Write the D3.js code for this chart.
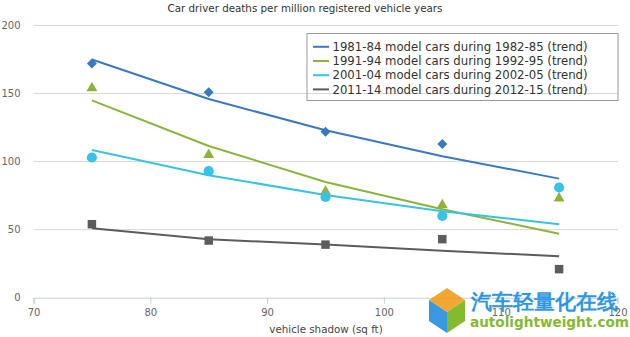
<!DOCTYPE html>
<html>
<head>
<meta charset="utf-8">
<script src="https://cdn.jsdelivr.net/npm/d3@7"></script>
<style>
    html, body { margin: 0; padding: 0; background: #fff; }
    #chart { width: 630px; height: 337px; }
    text { font-family: "DejaVu Sans", Verdana, sans-serif; }
</style>
</head>
<body>
<div id="chart"></div>
<script>
// Car driver deaths vs vehicle shadow, four model-year cohorts
const shadow = [75, 85, 95, 105, 115];
const seriesNames = [
    "1981-84 model cars during 1982-85 (trend)",
    "1991-94 model cars during 1992-95 (trend)",
    "2001-04 model cars during 2002-05 (trend)",
    "2011-14 model cars during 2012-15 (trend)"
];
// the 1981-84 point at 115 sits under the cyan circle in the picture
const points1981 = [172, 151, 122, 113, null];
const points1991 = [154, 105, 78, 68, 73];
const points2001 = [103, 93, 74, 60, 81];
const points2011 = [54, 42, 39, 43, 21];
const trend1981 = [175, 146, 123, 104, 87.5];
const trend1991 = [145, 111.5, 85, 65, 47];
const trend2001 = [108.5, 90, 75.5, 63.5, 54];
const trend2011 = [51, 43, 39, 34.5, 30.5];
const xTicks = [70, 80, 90, 100, 110, 120];
const yTicks = [0, 50, 100, 150, 200];

(() => {
    const sel = d3.select("#chart");
    const W = 630, H = 337;
    const svg = sel.append("svg").attr("width", W).attr("height", H);

    const x = d3.scaleLinear().domain([70, 120]).range([33.5, 617.5]);
    const y = d3.scaleLinear().domain([0, 200]).range([297.7, 25.5]);

    const series = [
        { name: seriesNames[0], pts: points1981, trend: trend1981, color: "#3b78c4", shape: d3.symbolDiamond2, size: 64 },
        { name: seriesNames[1], pts: points1991, trend: trend1991, color: "#8db43a", shape: d3.symbolTriangle, size: 52 },
        { name: seriesNames[2], pts: points2001, trend: trend2001, color: "#35c3e8", shape: d3.symbolCircle, size: 80 },
        { name: seriesNames[3], pts: points2011, trend: trend2011, color: "#5c5c5c", shape: d3.symbolSquare, size: 72 }
    ];

    // title
    svg.append("text").attr("x", 305).attr("y", 12).attr("text-anchor", "middle")
        .attr("font-size", 10.3).attr("fill", "#333")
        .text("Car driver deaths per million registered vehicle years");

    // grid
    svg.append("g").selectAll("line").data(yTicks.filter(d => d > 0)).join("line")
        .attr("x1", 34).attr("x2", 618)
        .attr("y1", d => y(d)).attr("y2", d => y(d))
        .attr("stroke", "#d8d8d8").attr("stroke-width", 1);

    // y labels
    svg.append("g").selectAll("text").data(yTicks).join("text")
        .attr("x", 20.5).attr("y", d => y(d) + 3.5).attr("text-anchor", "end")
        .attr("font-size", 10).attr("fill", "#666").text(d => d);

    // x axis
    const xAxis = svg.append("g").attr("transform", `translate(0,${y(0)})`)
        .call(d3.axisBottom(x).tickValues(xTicks).tickSize(6).tickPadding(5));
    xAxis.select(".domain").attr("stroke", "#c0d0e0");
    xAxis.selectAll(".tick line").attr("stroke", "#c0d0e0");
    xAxis.selectAll("text").attr("font-size", 10).attr("fill", "#666")
        .attr("font-family", "DejaVu Sans, Verdana, sans-serif");

    svg.append("text").attr("x", 326).attr("y", 333).attr("text-anchor", "middle")
        .attr("font-size", 10.3).attr("fill", "#444").text("vehicle shadow (sq ft)");

    // trend lines
    const line = d3.line().x((d, i) => x(shadow[i])).y(d => y(d));
    svg.append("g").selectAll("path").data(series).join("path")
        .attr("d", s => line(s.trend))
        .attr("fill", "none").attr("stroke", s => s.color).attr("stroke-width", 2);

    // markers
    series.forEach(s => {
        const pts = s.pts.map((v, i) => ({ v, i })).filter(d => d.v != null);
        svg.append("g").selectAll("path").data(pts).join("path")
            .attr("transform", d => `translate(${x(shadow[d.i])},${y(d.v)})`)
            .attr("d", d3.symbol().type(s.shape).size(s.size))
            .attr("fill", s.color);
    });

    // legend
    const lg = svg.append("g").attr("transform", "translate(307,33.5)");
    lg.append("rect").attr("width", 311).attr("height", 67)
        .attr("fill", "none").attr("stroke", "#999").attr("stroke-width", 1);
    const item = lg.selectAll("g").data(series).join("g")
        .attr("transform", (d, i) => `translate(0,${13.3 + i * 14.2})`);
    item.append("line").attr("x1", 6).attr("x2", 22).attr("stroke", d => d.color).attr("stroke-width", 2);
    item.append("text").attr("x", 25.5).attr("y", 4.2).attr("font-size", 11.7)
        .attr("fill", "#333").text(d => d.name);

    // watermark
    const wm = svg.append("g").attr("opacity", 0.92);
    wm.append("path").attr("d", "M429,300 L447,288 L465,300 L447,312 Z").attr("fill", "#f0a020");
    wm.append("path").attr("d", "M429,300 L447,312 L447,333 L429,321 Z").attr("fill", "#2a8fe0");
    wm.append("path").attr("d", "M447,312 L465,300 L465,321 L447,333 Z").attr("fill", "#7ab51d");
    wm.append("text").attr("x", 471).attr("y", 309).attr("font-size", 21).attr("font-weight", "bold")
        .attr("font-family", "Noto Sans CJK SC").attr("fill", "#1b8fe3").text("汽车轻量化在线");
    wm.append("text").attr("x", 470).attr("y", 327).attr("font-size", 13.6).attr("font-weight", "bold")
        .attr("font-family", "Arial, Liberation Sans, sans-serif").attr("fill", "#7ab51d").text("autolightweight.com");
})();
</script>
</body>
</html>
